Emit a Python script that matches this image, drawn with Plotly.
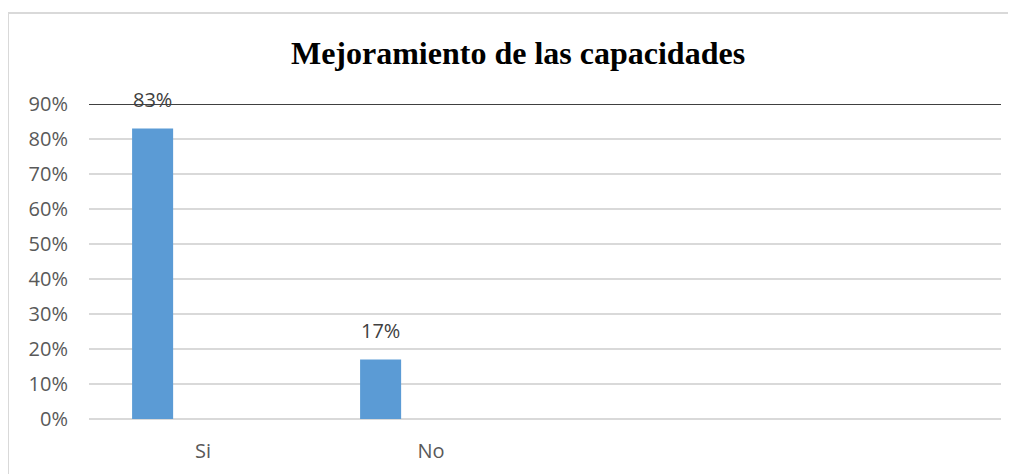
import plotly.graph_objects as go

# datos
categorias = ["Si", "No", " ", "  "]
valores = [0.83, 0.17, None, None]
etiquetas = ["83%", "17%", "", ""]
ticks_y = [0, 0.1, 0.2, 0.3, 0.4, 0.5, 0.6, 0.7, 0.8, 0.9]
ticks_txt = ["0%", "10%", "20%", "30%", "40%", "50%", "60%", "70%", "80%", "90%"]

fig = go.Figure()
fig.add_trace(go.Bar(
    x=categorias, y=valores,
    marker=dict(color="#5B9BD5", line=dict(width=0)),
    width=0.18, offset=-0.311,
))

# etiquetas de datos encima de las barras
for c, v, t in zip(categorias, valores, etiquetas):
    if v is None:
        continue
    fig.add_annotation(x=c, y=v, text=t, showarrow=False, xshift=-50.5,
                       yanchor="bottom", yshift=14,
                       font=dict(family="Open Sans", size=20, color="#404040"))

# linea negra superior (90%)
fig.add_shape(type="line", xref="paper", yref="y", x0=0, x1=1, y0=0.9, y1=0.9,
              line=dict(color="#404040", width=2), layer="above")

# borde del grafico
fig.add_shape(type="rect", xref="paper", yref="paper",
              x0=-0.0888, x1=1.05, y0=-0.3, y1=1.289,
              line=dict(color="#D9D9D9", width=2))

# la pagina tiene 8px de margen en el body, se compensa aqui
fig.update_layout(
    width=1016, height=474,
    margin=dict(l=81, r=23, t=96, b=63),
    paper_bgcolor="white", plot_bgcolor="white",
    showlegend=False,
    title=dict(text="<b>Mejoramiento de las capacidades</b>",
               font=dict(family="Liberation Serif", size=32, color="black"),
               x=510 / 1016, xanchor="center", xref="container",
               y=1 - 45 / 474, yanchor="middle", yref="container"),
    xaxis=dict(showgrid=False, showline=False, ticks="", automargin=False,
               tickfont=dict(family="Open Sans", size=20, color="#595959"),
               ticklabelstandoff=18),
    yaxis=dict(range=[0, 0.9], tickvals=ticks_y, ticktext=ticks_txt,
               showgrid=True, gridcolor="#D9D9D9", gridwidth=2, automargin=False,
               zeroline=True, zerolinecolor="#D9D9D9", zerolinewidth=2,
               tickfont=dict(family="Open Sans", size=20, color="#595959"),
               ticklabelstandoff=20),
)

fig.write_html("out.html")
